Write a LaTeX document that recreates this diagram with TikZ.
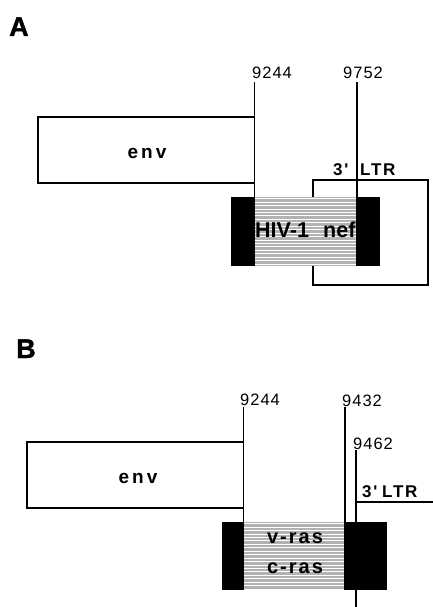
\documentclass[tikz,border=0pt]{standalone}
\usepackage{fontspec}
\newfontfamily\hv{Liberation Sans}
\newfontfamily\heavy[UprightFont={* Bold},FakeBold=1.5]{Liberation Sans}
\newfontfamily\hvsp[LetterSpace=6]{Liberation Sans}
\newfontfamily\hvmid[LetterSpace=10]{Liberation Sans}
\newfontfamily\hvwide[LetterSpace=16]{Liberation Sans}
\begin{document}
\begin{tikzpicture}[x=1pt,y=-1pt,
  ln/.style={line width=1.3pt},
  num/.style={anchor=base west,inner sep=0pt,font=\hvsp\fontsize{16.5}{18}\selectfont},
  panel/.style={anchor=base west,inner sep=0pt,font=\heavy\fontsize{27}{30}\selectfont},
  lbl/.style={anchor=base west,inner sep=0pt,font=\hvmid\bfseries\fontsize{17}{19}\selectfont},
  genelbl/.style={anchor=base,inner sep=0pt,font=\hvwide\bfseries\fontsize{19}{21}\selectfont},
  boxlbl/.style={anchor=base,inner sep=0pt,font=\hvmid\bfseries\fontsize{20}{22}\selectfont},
  hivlbl/.style={anchor=base west,inner sep=0pt,font=\hv\bfseries\fontsize{21.5}{24}\selectfont}]
\useasboundingbox (0,0) rectangle (433,607);

% ================= Panel A =================
\node[panel] (lA) at (9,36) {A};
\node[num] (nA1) at (252,79) {9244};
\node[num] (nA2) at (343,79) {9752};
% env box
\coordinate (eA1) at (254.5,117);
\coordinate (eA2) at (254.5,183);
\draw[ln] (eA1) -- (38,117) -- (38,183) -- (eA2);
\node[genelbl] (envA) at (147,158) {env};
% LTR outline box
\draw[ln] (313,197) -- (313,180) -- (428,180) -- (428,285) -- (313,285) -- (313,266);
\node[lbl] (ltrA3) at (333,175) {3'};
\node[lbl] (ltrA) at (360,175) {LTR};
% nef box
\fill[black] (231,197) rectangle (380,266);
\fill[gray!60] (254.5,197) rectangle (356,266);
\foreach \i in {0,...,19}
  \draw[white,line width=0.7pt] (254.5,{198.5+\i*3.45}) -- (356,{198.5+\i*3.45});
\node[hivlbl] (hiv) at (255,237.5) {HIV-1};
\node[hivlbl] (nef) at (323,237.5) {nef};
% position lines
\coordinate (tA1) at (254.5,82);
\coordinate (tA2) at (357,82);
\draw[ln] (tA1) -- (254.5,197);
\draw[ln] (tA2) -- (357,197);

% ================= Panel B =================
\node[panel] (lB) at (16,358) {B};
\node[num] (nB1) at (240,405) {9244};
\node[num] (nB2) at (342,406) {9432};
\node[num] (nB3) at (353,449) {9462};
% env box
\coordinate (eB1) at (243.5,442);
\coordinate (eB2) at (243.5,508);
\draw[ln] (eB1) -- (27,442) -- (27,508) -- (eB2);
\node[genelbl] (envB) at (138,483) {env};
% LTR line
\coordinate (lt1) at (356,502);
\coordinate (lt2) at (433,502);
\draw[ln] (lt1) -- (lt2);
\node[lbl] (ltrB3) at (362,497) {3'};
\node[lbl] (ltrB) at (382,497) {LTR};
% ras box
\fill[black] (222,522) rectangle (387,590);
\fill[gray!60] (243.5,522) rectangle (344,590);
\foreach \i in {0,...,19}
  \draw[white,line width=0.7pt] (243.5,{523.5+\i*3.45}) -- (344,{523.5+\i*3.45});
\node[boxlbl] (vras) at (295,543.5) {v-ras};
\node[boxlbl] (cras) at (295,573.5) {c-ras};
% position lines
\draw[ln] (243.5,407) -- (243.5,522);
\draw[ln] (345,407) -- (345,522);
\draw[ln] (356,450) -- (356,522);
\draw[ln] (356,590) -- (356,607);
\end{tikzpicture}
\end{document}
